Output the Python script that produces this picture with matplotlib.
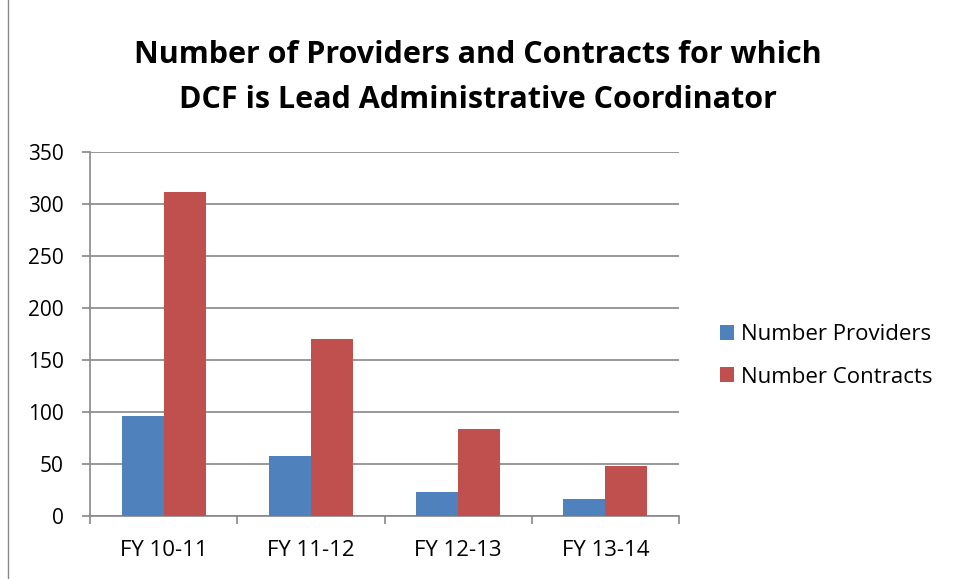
import matplotlib
matplotlib.use("Agg")
import matplotlib.pyplot as plt
import numpy as np
from matplotlib.patches import Rectangle

categories = ["FY 10-11", "FY 11-12", "FY 12-13", "FY 13-14"]
providers = [96, 58, 23, 16]
contracts = [312, 170, 84, 48]

plt.rcParams["font.family"] = ["Open Sans", "DejaVu Sans"]

fig = plt.figure(figsize=(9.55, 5.79), dpi=100)
ax = fig.add_axes([90 / 955, 1 - 516 / 579, (679 - 90) / 955, (516 - 152) / 579])

x = np.arange(len(categories))
w = 1 / 3.5
ax.bar(x - w / 2, providers, w, color="#4F81BD", label="Number Providers", zorder=3)
ax.bar(x + w / 2, contracts, w, color="#C0504D", label="Number Contracts", zorder=3)

ax.set_xlim(-0.5, len(categories) - 0.5)
ax.set_ylim(0, 350)
ax.set_yticks(range(0, 351, 50))
ax.set_xticks(x)
ax.set_xticklabels(categories)
ax.set_xticks(np.arange(-0.5, len(categories), 1), minor=True)
ax.tick_params(axis="x", which="major", length=0, labelsize=16, pad=17)
ax.tick_params(axis="x", which="minor", length=6, color="#888888", width=1.2)
ax.tick_params(axis="y", length=6, color="#888888", width=1.2, labelsize=15, pad=13)
ax.yaxis.grid(True, color="#888888", linewidth=1.2, zorder=0)
for s in ["top", "right"]:
    ax.spines[s].set_visible(False)
for s in ["left", "bottom"]:
    ax.spines[s].set_color("#888888")
    ax.spines[s].set_linewidth(1.2)

fig.text(0.5, 1 - 63 / 579, "Number of Providers and Contracts for which",
         ha="center", va="baseline", fontsize=22, fontweight="bold")
fig.text(0.5, 1 - 108 / 579, "DCF is Lead Administrative Coordinator",
         ha="center", va="baseline", fontsize=22, fontweight="bold")

ax.legend(loc="center left", bbox_to_anchor=(700 / 955, 1 - 356 / 579),
          bbox_transform=fig.transFigure, frameon=False, fontsize=16,
          handlelength=0.65, handleheight=0.65, handletextpad=0.3, labelspacing=0.95)

fig.patches.append(Rectangle((8 / 955, -0.01), 1.02, 1.02, transform=fig.transFigure,
                             fill=False, edgecolor="#888888", linewidth=1))

fig.savefig("out.png", dpi=100)
